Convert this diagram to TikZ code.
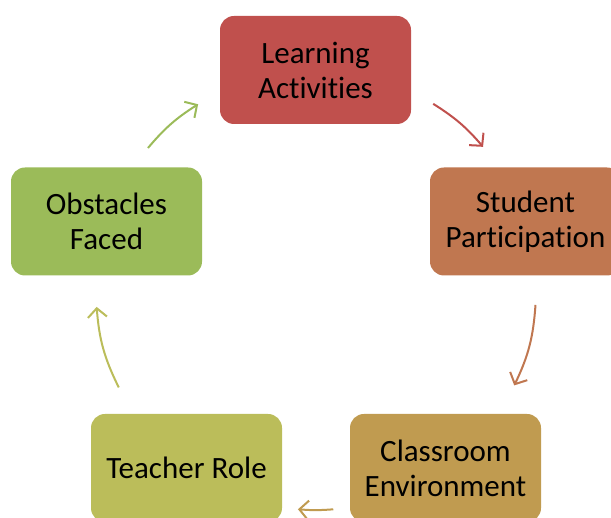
\documentclass[tikz,border=0pt]{standalone}
\usepackage{fontspec}
\setmainfont{Carlito}[Ligatures=NoCommon]
\usepackage{tikz}
\usetikzlibrary{
	arrows.meta,
	calc,
	positioning
}
\definecolor{colLearn}{HTML}{C0504D}
\definecolor{colStudent}{HTML}{C07750}
\definecolor{colClass}{HTML}{C09B50}
\definecolor{colTeacher}{HTML}{BBBD5A}
\definecolor{colObst}{HTML}{9BBB59}
\tikzset{
	box/.style={rectangle,rounded corners=14pt,minimum width=191pt,minimum height=108pt,
		align=center,inner sep=0pt,font=\fontsize{31}{35}\selectfont},
	flow/.style={line width=2pt,-{Straight Barb[length=9pt,width=19pt]}}
}
\newcommand{\tikzBox}[4][]{\node (#3) at #2 [box,#1]{#4};}
\newcommand{\tikzEnd}[3]{\coordinate (#3) at ([shift={(#2:220pt)}]#1);}

\begin{document}
\begin{tikzpicture}[x=1pt,y=1pt]
								\useasboundingbox (0,0) rectangle (611,518);
								\clip (0,0) rectangle (611,518);
								\coordinate (ring) at (316,228);
								
								\tikzBox[fill=colLearn]{(315.5,448)}{learn}{Learning\\Activities}
								\tikzBox[fill=colStudent]{(525.5,296.5)}{student}{Student\\Participation}
								\tikzBox[fill=colClass]{(445.5,50)}{class}{Classroom\\Environment}
								\tikzBox[fill=colTeacher]{(186.5,50)}{teacher}{Teacher Role}
								\tikzBox[fill=colObst]{(106.5,296.5)}{obst}{Obstacles\\Faced}
								
								\tikzEnd{ring}{57.8}{a1s}
								\tikzEnd{ring}{40.6}{a1e}
								\tikzEnd{ring}{-3.9}{a2s}
								\tikzEnd{ring}{-25.7}{a2e}
								\tikzEnd{ring}{-85.5}{a3s}
								\tikzEnd{ring}{-94.7}{a3e}
								\tikzEnd{ring}{206.3}{a4s}
								\tikzEnd{ring}{184.4}{a4e}
								\tikzEnd{ring}{139.8}{a5s}
								\tikzEnd{ring}{122.4}{a5e}
								
								\draw[flow,colLearn] (a1s) to[bend left=8.6] (a1e);
								\draw[flow,colStudent] (a2s) to[bend left=10.9] (a2e);
								\draw[flow,colClass] (a3s) to[bend left=4.6] (a3e);
								\draw[flow,colTeacher] (a4s) to[bend left=11] (a4e);
								\draw[flow,colObst] (a5s) to[bend left=8.7] (a5e);
							\end{tikzpicture}
\end{document}
